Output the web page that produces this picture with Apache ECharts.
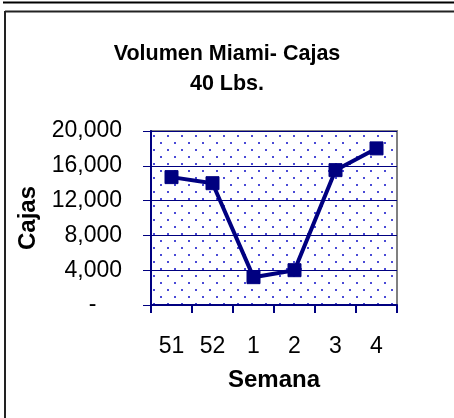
<!DOCTYPE html>
<html>
<head>
<meta charset="utf-8">
<script src="https://cdn.jsdelivr.net/npm/echarts@6/dist/echarts.min.js"></script>
<style>
html,body{margin:0;padding:0;background:#fff;}
#c{width:454px;height:418px;}
</style>
</head>
<body>
<div id="c"></div>
<script>
var categories = ['51', '52', '1', '2', '3', '4'];
var volumen = [14700, 14000, 3200, 4000, 15500, 18000];
var yTicks = [0, 4000, 8000, 12000, 16000, 20000];

var pat = document.createElement('canvas');
pat.width = 14; pat.height = 14;
var pc = pat.getContext('2d');
pc.fillStyle = '#ffffff';
pc.fillRect(0, 0, 14, 14);
pc.fillStyle = '#4a4ad6';
pc.fillRect(6, 2, 2, 2);
pc.fillRect(13, 9, 1, 2);
pc.fillRect(0, 9, 1, 2);

var chart = echarts.init(document.getElementById('c'), null, {renderer: 'canvas'});
var navy = '#000080';
var font = 'Arial, Liberation Sans, sans-serif';
chart.setOption({
  backgroundColor: '#ffffff',
  animation: false,
  title: {
    text: 'Volumen Miami- Cajas\n40 Lbs.',
    left: 222,
    textAlign: 'center',
    top: 34,
    textStyle: {
      fontFamily: font,
      fontWeight: 'bold',
      fontSize: 21.5,
      lineHeight: 30,
      color: '#000'
    }
  },
  graphic: [
    {type: 'line', shape: {x1: 3, y1: 2.5, x2: 454, y2: 2.5}, style: {stroke: '#000', lineWidth: 2}},
    {type: 'line', shape: {x1: 5, y1: 11.5, x2: 454, y2: 11.5}, style: {stroke: '#222', lineWidth: 2}},
    {type: 'line', shape: {x1: 5, y1: 11, x2: 5, y2: 418}, style: {stroke: '#222', lineWidth: 2}}
  ],
  grid: {
    left: 151,
    right: 57,
    top: 131,
    bottom: 113,
    show: true,
    backgroundColor: {image: pat, repeat: 'repeat'},
    borderColor: '#808080',
    borderWidth: 2,
    containLabel: false
  },
  xAxis: {
    type: 'category',
    data: categories,
    boundaryGap: true,
    name: 'Semana',
    nameLocation: 'middle',
    nameGap: 63,
    nameTextStyle: {
      fontFamily: font,
      fontWeight: 'bold',
      fontSize: 24,
      color: '#000'
    },
    axisLine: {lineStyle: {color: navy, width: 2}},
    axisTick: {show: true, inside: false, length: 8, alignWithLabel: false, lineStyle: {color: navy, width: 2}},
    axisLabel: {
      margin: 30,
      fontFamily: font,
      fontSize: 23,
      color: '#000'
    },
    splitLine: {show: false}
  },
  yAxis: {
    type: 'value',
    min: 0,
    max: 20000,
    interval: 4000,
    name: 'Cajas',
    nameLocation: 'middle',
    nameGap: 103,
    nameRotate: 90,
    nameTextStyle: {
      fontFamily: font,
      fontWeight: 'bold',
      fontSize: 24,
      color: '#000'
    },
    axisLine: {show: true, lineStyle: {color: navy, width: 2}},
    axisTick: {show: true, inside: false, length: 8, lineStyle: {color: navy, width: 1}},
    axisLabel: {
      margin: 29,
      fontFamily: font,
      fontSize: 23,
      color: '#000',
      formatter: function (v) {
        if (yTicks.indexOf(v) < 0) return '';
        if (v === 0) return '-    ';
        return v.toLocaleString('en-US');
      }
    },
    splitLine: {show: true, lineStyle: {color: navy, width: 1}}
  },
  series: [{
    type: 'line',
    data: volumen,
    symbol: 'rect',
    symbolSize: 13,
    lineStyle: {color: navy, width: 4},
    itemStyle: {color: navy, borderColor: navy},
    z: 5
  }]
});
</script>
</body>
</html>
